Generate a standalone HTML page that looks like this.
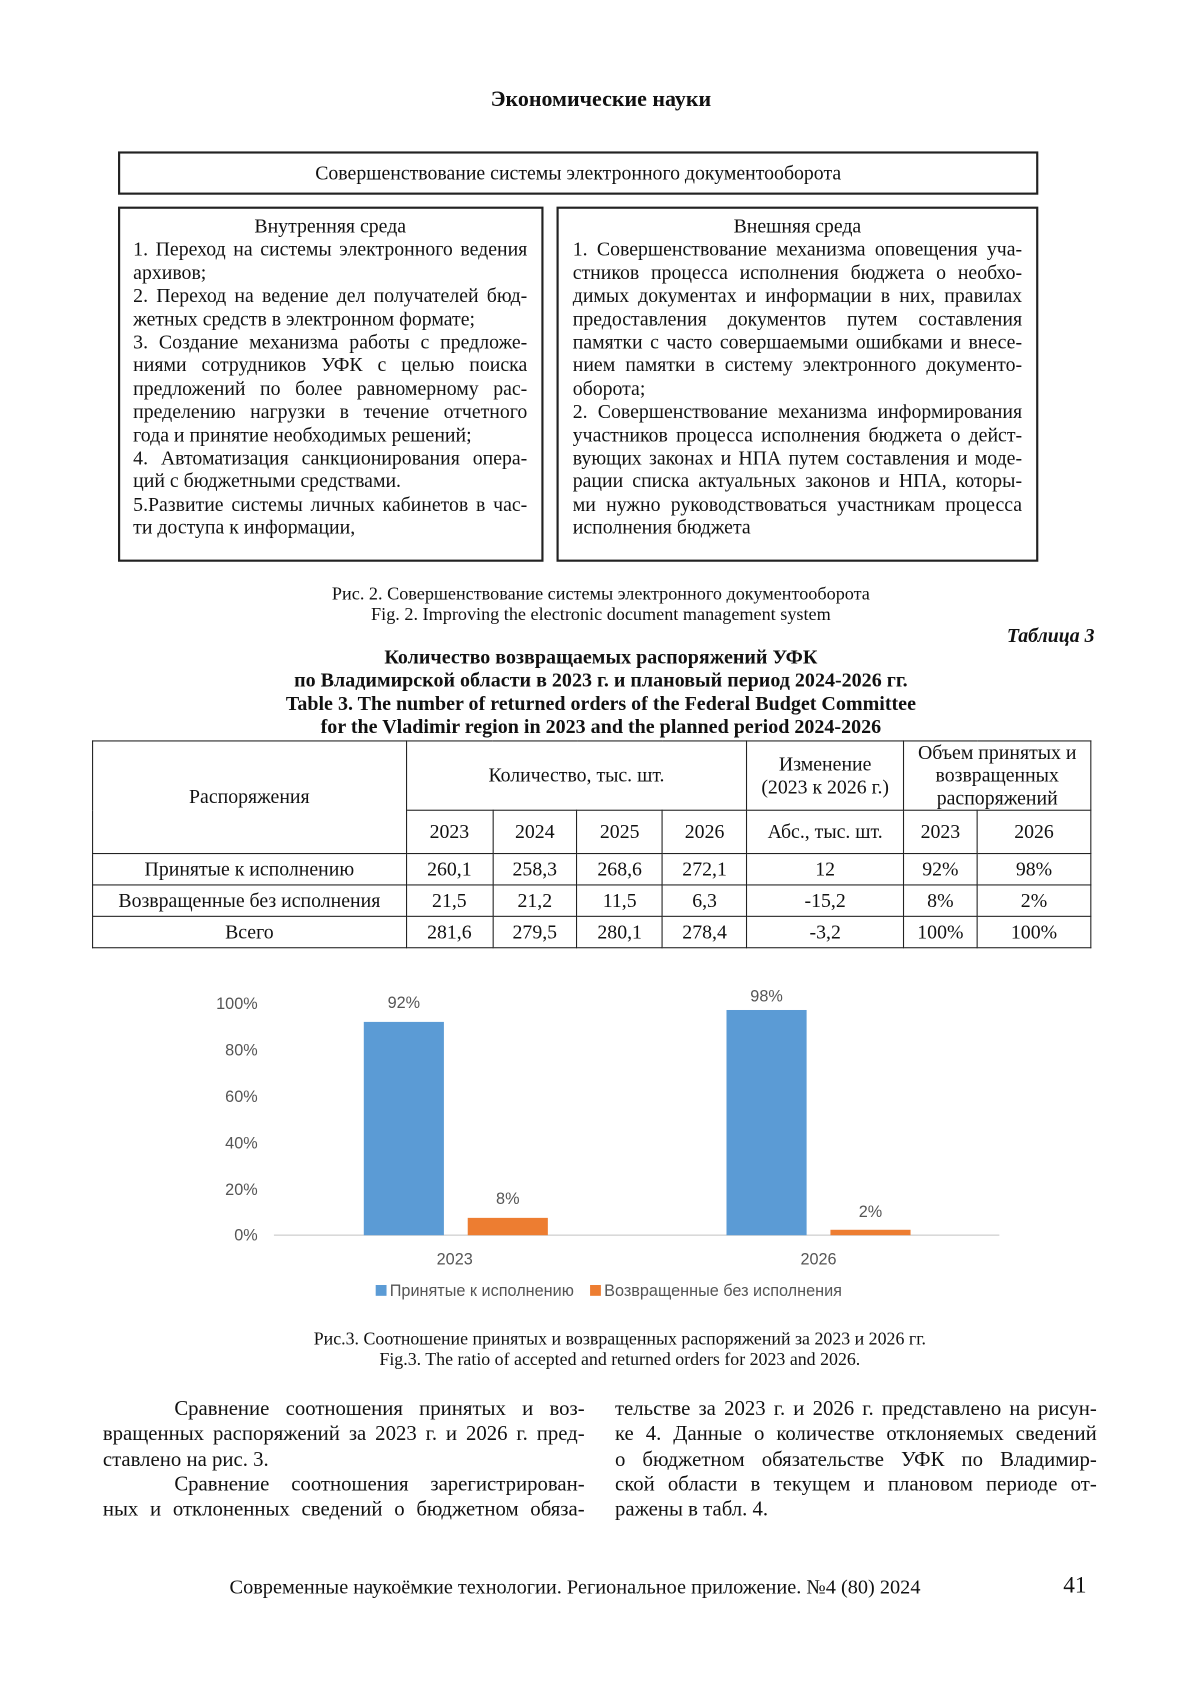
<!DOCTYPE html>
<html><head><meta charset="utf-8"><style>
html,body{margin:0;padding:0;background:#fff;}
body{width:1200px;height:1697px;overflow:hidden;position:relative;}
#f{position:absolute;left:0;top:2px;width:1100px;height:1570px;transform:scale(1.0827);transform-origin:0 0;font-family:"Liberation Serif",serif;color:#111;}
.a{position:absolute;}
.c{text-align:center;}
.box{position:absolute;border:2px solid #222;box-sizing:border-box;}
.ln{height:21.4px;line-height:21.4px;font-size:18.3px;white-space:nowrap;}
.j{text-align:justify;text-align-last:justify;white-space:normal;}
.bl{height:23.3px;line-height:23.3px;font-size:19.2px;white-space:nowrap;}
table{border-collapse:collapse;position:absolute;left:85px;top:682px;width:923px;font-size:18.3px;}
td{border:1.5px solid #222;text-align:center;padding:0;line-height:21px;}
</style></head><body><div id="f">
<div class="a c" style="left:0;width:1110px;top:79px;font-weight:bold;font-size:20.3px;">Экономические науки</div>
<div class="box c" style="left:109px;top:138px;width:850px;height:40px;line-height:36px;font-size:18.3px;">Совершенствование системы электронного документооборота</div>
<div class="box" style="left:109px;top:189px;width:393px;height:328px;"></div>
<div class="a" style="left:123px;top:197px;width:364px;">
<div class="ln c">Внутренняя среда</div>
<div class="ln j">1. Переход на системы электронного ведения</div>
<div class="ln">архивов;</div>
<div class="ln j">2. Переход на ведение дел получателей бюд-</div>
<div class="ln">жетных средств в электронном формате;</div>
<div class="ln j">3. Создание механизма работы с предложе-</div>
<div class="ln j">ниями сотрудников УФК с целью поиска</div>
<div class="ln j">предложений по более равномерному рас-</div>
<div class="ln j">пределению нагрузки в течение отчетного</div>
<div class="ln">года и принятие необходимых решений;</div>
<div class="ln j">4. Автоматизация санкционирования опера-</div>
<div class="ln">ций с бюджетными средствами.</div>
<div class="ln j">5.Развитие системы личных кабинетов в час-</div>
<div class="ln">ти доступа к информации,</div>
</div>
<div class="box" style="left:514px;top:189px;width:445px;height:328px;"></div>
<div class="a" style="left:529px;top:197px;width:415px;">
<div class="ln c">Внешняя среда</div>
<div class="ln j">1. Совершенствование механизма оповещения уча-</div>
<div class="ln j">стников процесса исполнения бюджета о необхо-</div>
<div class="ln j">димых документах и информации в них, правилах</div>
<div class="ln j">предоставления документов путем составления</div>
<div class="ln j">памятки с часто совершаемыми ошибками и внесе-</div>
<div class="ln j">нием памятки в систему электронного документо-</div>
<div class="ln">оборота;</div>
<div class="ln j">2. Совершенствование механизма информирования</div>
<div class="ln j">участников процесса исполнения бюджета о дейст-</div>
<div class="ln j">вующих законах и НПА путем составления и моде-</div>
<div class="ln j">рации списка актуальных законов и НПА, которы-</div>
<div class="ln j">ми нужно руководствоваться участникам процесса</div>
<div class="ln">исполнения бюджета</div>
</div>
<div class="a c" style="left:0;width:1110px;top:537px;font-size:16.8px;line-height:19px;">Рис. 2. Совершенствование системы электронного документооборота<br>Fig. 2. Improving the electronic document management system</div>
<div class="a" style="left:930px;top:575px;font-size:18.3px;font-weight:bold;font-style:italic;">Таблица 3</div>
<div class="a c" style="left:0;width:1110px;top:596px;font-size:18.5px;font-weight:bold;line-height:21.3px;">Количество возвращаемых распоряжений УФК<br>по Владимирской области в 2023 г. и плановый период 2024-2026 гг.<br>Table 3. The number of returned orders of the Federal Budget Committee<br>for the Vladimir region in 2023 and the planned period 2024-2026</div>
<table>
<colgroup><col style="width:290px"><col style="width:80px"><col style="width:78px"><col style="width:79px"><col style="width:78px"><col style="width:145px"><col style="width:68px"><col style="width:105px"></colgroup>
<tr style="height:64px"><td rowspan="2">Распоряжения</td><td colspan="4">Количество, тыс. шт.</td><td>Изменение<br>(2023 к 2026 г.)</td><td colspan="2">Объем принятых и<br>возвращенных<br>распоряжений</td></tr>
<tr style="height:40px"><td>2023</td><td>2024</td><td>2025</td><td>2026</td><td>Абс., тыс. шт.</td><td>2023</td><td>2026</td></tr>
<tr style="height:29px"><td>Принятые к исполнению</td><td>260,1</td><td>258,3</td><td>268,6</td><td>272,1</td><td>12</td><td>92%</td><td>98%</td></tr>
<tr style="height:29px"><td>Возвращенные без исполнения</td><td>21,5</td><td>21,2</td><td>11,5</td><td>6,3</td><td>-15,2</td><td>8%</td><td>2%</td></tr>
<tr style="height:29px"><td>Всего</td><td>281,6</td><td>279,5</td><td>280,1</td><td>278,4</td><td>-3,2</td><td>100%</td><td>100%</td></tr>
</table>
<svg class="a" style="left:0;top:0" width="1100" height="1570">
<g font-family="Liberation Sans, DejaVu Sans, sans-serif" font-size="15" fill="#555">
<text x="238" y="930" text-anchor="end">100%</text>
<text x="238" y="973" text-anchor="end">80%</text>
<text x="238" y="1016" text-anchor="end">60%</text>
<text x="238" y="1059" text-anchor="end">40%</text>
<text x="238" y="1102" text-anchor="end">20%</text>
<text x="238" y="1144" text-anchor="end">0%</text>
<line x1="253" y1="1139" x2="923" y2="1139" stroke="#d9d9d9" stroke-width="1.5"/>
<rect x="336" y="942" width="74" height="197" fill="#5b9bd5"/>
<rect x="432" y="1123" width="74" height="16" fill="#ed7d31"/>
<rect x="671" y="931" width="74" height="208" fill="#5b9bd5"/>
<rect x="767" y="1134" width="74" height="5" fill="#ed7d31"/>
<text x="373" y="929" text-anchor="middle">92%</text>
<text x="469" y="1110" text-anchor="middle">8%</text>
<text x="708" y="923" text-anchor="middle">98%</text>
<text x="804" y="1122" text-anchor="middle">2%</text>
<text x="420" y="1166" text-anchor="middle">2023</text>
<text x="756" y="1166" text-anchor="middle">2026</text>
<rect x="347" y="1185" width="10" height="10" fill="#5b9bd5"/>
<text x="360" y="1195">Принятые к исполнению</text>
<rect x="545" y="1185" width="10" height="10" fill="#ed7d31"/>
<text x="558" y="1195">Возвращенные без исполнения</text>
</g></svg>
<div class="a c" style="left:0;width:1145px;top:1225px;font-size:16.5px;line-height:19px;">Рис.3. Соотношение принятых и возвращенных распоряжений за 2023 и 2026 гг.<br>Fig.3. The ratio of accepted and returned orders for 2023 and 2026.</div>
<div class="a" style="left:95px;top:1288px;width:445px;">
<div class="bl j" style="padding-left:66px;">Сравнение соотношения принятых и воз-</div>
<div class="bl j">вращенных распоряжений за 2023 г. и 2026 г. пред-</div>
<div class="bl">ставлено на рис. 3.</div>
<div class="bl j" style="padding-left:66px;">Сравнение соотношения зарегистрирован-</div>
<div class="bl j">ных и отклоненных сведений о бюджетном обяза-</div>
</div>
<div class="a" style="left:568px;top:1288px;width:445px;">
<div class="bl j">тельстве за 2023 г. и 2026 г. представлено на рисун-</div>
<div class="bl j">ке 4. Данные о количестве отклоняемых сведений</div>
<div class="bl j">о бюджетном обязательстве УФК по Владимир-</div>
<div class="bl j">ской области в текущем и плановом периоде от-</div>
<div class="bl">ражены в табл. 4.</div>
</div>
<div class="a" style="left:212px;top:1454px;font-size:18.75px;">Современные наукоёмкие технологии. Региональное приложение. №4 (80) 2024</div>
<div class="a" style="left:982px;top:1450px;font-size:21.5px;">41</div>
</div></body></html>
